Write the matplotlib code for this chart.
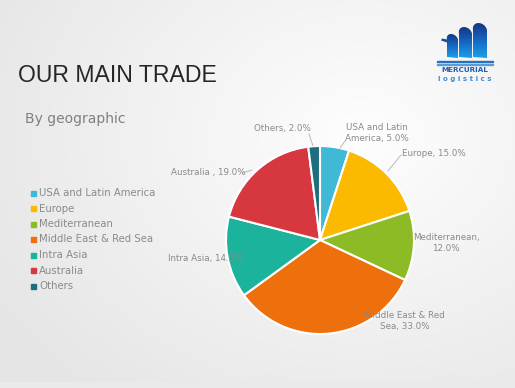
import numpy as np
import matplotlib.pyplot as plt
from matplotlib.patches import Polygon, Rectangle
from matplotlib.colors import LinearSegmentedColormap

W, H = 515, 388

regions = ["USA and Latin America", "Europe", "Mediterranean",
           "Middle East & Red Sea", "Intra Asia", "Australia", "Others"]
shares = [5.0, 15.0, 12.0, 33.0, 14.0, 19.0, 2.0]
colors = ["#3fb9d6", "#fbb900", "#8cbb25", "#ee700d", "#1cb39c", "#d7373f", "#1e6f7e"]

# label text as shown on the chart (line breaks as in the picture)
label_text = ["USA and Latin\nAmerica, 5.0%", "Europe, 15.0%", "Mediterranean,\n12.0%",
              "Middle East & Red\nSea, 33.0%", "Intra Asia, 14.0%", "Australia , 19.0%",
              "Others, 2.0%"]

fig = plt.figure(figsize=(W / 100, H / 100), dpi=100)
ax = fig.add_axes([0, 0, 1, 1])

# slide background: light grey left/bottom, brighter toward upper right
yy, xx = np.mgrid[0:H, 0:W]
d = np.sqrt(((xx - 360) / 380.0) ** 2 + ((yy - 250) / 300.0) ** 2)
bg = 0.995 - 0.085 * np.clip(d, 0, 1.1)
bg[:6, :] = 0.92
ax.imshow(np.dstack([bg, bg, bg]), extent=[0, W, 0, H], origin="lower", zorder=0, aspect="auto")


def py(y):
    return H - y


# pie
cx, cy, r = 320, py(240), 94
wedges, _ = ax.pie(shares, colors=colors, startangle=90, counterclock=False,
                   center=(cx, cy), radius=r, frame=True,
                   wedgeprops=dict(edgecolor="white", linewidth=1.5))
ax.set_xlim(0, W)
ax.set_ylim(0, H)
ax.set_aspect("auto")
ax.axis("off")

lab_col = "#8a8a8a"
lab_kw = dict(fontsize=6.3, color=lab_col, family="DejaVu Sans", zorder=5)

# label placements (x, y in pixel coords from top) and alignment
spots = [
    (345, 133, "left", (345, 141), (340, 148)),
    (402, 153, "left", (401, 155), (388, 171)),
    (446, 243, "center", None, None),
    (405, 321, "center", None, None),
    (168, 258, "left", None, None),
    (171, 173, "left", (242, 173), (252, 170)),
    (254, 129, "left", (309, 134), (313, 146)),
]
for txt, (x, y, ha, p0, p1) in zip(label_text, spots):
    ax.text(x, py(y), txt, ha=ha, va="center", multialignment="center", linespacing=1.3, **lab_kw)
    if p0 is not None:
        ax.plot([p0[0], p1[0]], [py(p0[1]), py(p1[1])], color="#b0b0b0", lw=0.6, zorder=4)

# legend
for i, (name, c) in enumerate(zip(regions, colors)):
    ly = py(193 + i * 15.5)
    ax.add_patch(Rectangle((31, ly - 2.5), 5, 5, color=c, zorder=5))
    ax.text(39, ly, name, fontsize=7.3, color=lab_col, va="center", family="DejaVu Sans", zorder=5)

# titles
ax.text(18, py(75), "OUR MAIN TRADE", fontsize=16.6, color="#262626", va="center",
        family="Liberation Sans", zorder=5)
ax.text(25, py(119), "By geographic", fontsize=10, color="#808080", va="center",
        family="DejaVu Sans", zorder=5)

# logo: three rounded columns, navy at the top fading to bright blue
logo_cmap = LinearSegmentedColormap.from_list("logo", ["#1aa0e8", "#1565c0", "#16307a"])
grad = np.linspace(0, 1, 64).reshape(-1, 1)


def column(x0, x1, top, bottom, beak=0):
    rr = (x1 - x0) / 2.0
    t = np.linspace(np.pi, 0, 20)
    arc = [(x0 + rr + rr * np.cos(a) - 1.5 * np.sin(a), top + rr - rr * np.sin(a)) for a in t]
    pts = [(x0, bottom)] + ([(x0, top + rr + 3), (x0 - beak, top + rr + 1), (x0 - beak + 1, top + rr - 1)]
                            if beak else []) + arc + [(x1, bottom + 1)]
    return [(x, py(y)) for x, y in pts]


for x0, x1, top, beak in [(447, 458, 34, 6), (459, 472, 27, 0), (473, 487, 23, 0)]:
    poly = Polygon(column(x0, x1, top, 57, beak), closed=True, facecolor="none", edgecolor="none", zorder=5)
    ax.add_patch(poly)
    im = ax.imshow(grad, cmap=logo_cmap, extent=[x0 - 8, x1 + 2, py(58), py(top - 2)],
                   origin="lower", aspect="auto", zorder=5)
    im.set_clip_path(poly)
ax.set_xlim(0, W)
ax.set_ylim(0, H)
ax.add_patch(Rectangle((437, py(62)), 56, 1.2, color="#2a6fc0", zorder=5))
ax.add_patch(Rectangle((437, py(64.5)), 56, 0.8, color="#5b9bd8", zorder=5))
ax.text(465, py(70), "MERCURIAL", fontsize=5.2, color="#1f5fb0", ha="center", va="center",
        fontweight="bold", family="DejaVu Sans", zorder=5)
ax.text(465, py(79), "l o g i s t i c s", fontsize=5, color="#3a8fd8", ha="center", va="center",
        fontweight="bold", family="DejaVu Sans", zorder=5)

fig.savefig("out.png", dpi=100)
